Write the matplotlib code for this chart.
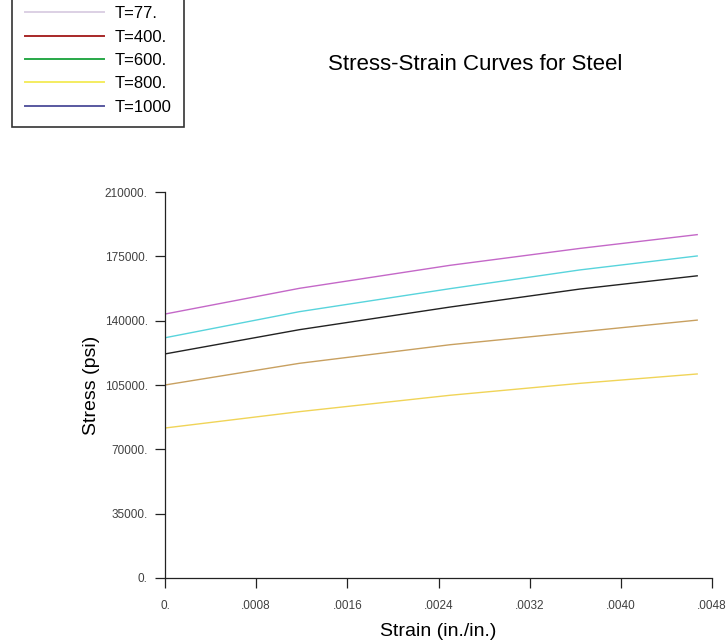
import matplotlib
matplotlib.use('Agg')
import matplotlib.pyplot as plt
from matplotlib.lines import Line2D

plt.rcParams['font.family'] = ['Liberation Sans', 'DejaVu Sans']

# strain sample points (in./in.)
strain = [0.0, 0.00118, 0.0025, 0.00364, 0.00467]

# stress (psi) at each strain, one curve per temperature
stress_77 = [143600, 157600, 170100, 179300, 186800]
stress_400 = [130700, 144900, 157400, 167600, 175200]
stress_600 = [121900, 135100, 147400, 157200, 164400]
stress_800 = [105000, 116800, 126900, 133900, 140300]
stress_1000 = [81600, 90500, 99400, 105900, 111000]

temps = ['T=77.', 'T=400.', 'T=600.', 'T=800.', 'T=1000']
line_colors = ['#c468c8', '#58d4dc', '#222222', '#c8a060', '#f0d458']
legend_colors = ['#dcd0e4', '#a82828', '#28a848', '#f4ec60', '#5858a0']

x_ticks = [0, 0.0008, 0.0016, 0.0024, 0.0032, 0.0040, 0.0048]
x_tick_labels = ['0.', '.0008', '.0016', '.0024', '.0032', '.0040', '.0048']
y_ticks = [0, 35000, 70000, 105000, 140000, 175000, 210000]
y_tick_labels = ['0.', '35000.', '70000.', '105000.', '140000.', '175000.', '210000.']

fig = plt.figure(figsize=(7.27, 6.43), dpi=100)
ax = fig.add_axes([165 / 727, 65 / 643, 547 / 727, 386 / 643])

curves = [stress_77, stress_400, stress_600, stress_800, stress_1000]
for vals, c in zip(curves, line_colors):
    ax.plot(strain, vals, color=c, linewidth=1.0)

ax.set_xlim(0, 0.0048)
ax.set_ylim(0, 210000)
ax.set_xticks(x_ticks)
ax.set_xticklabels(x_tick_labels)
ax.set_yticks(y_ticks)
ax.set_yticklabels(y_tick_labels)
ax.tick_params(axis='both', direction='out', length=7.5, width=0.9,
               labelsize=8.5, labelcolor='#404040', color='#222222')
ax.tick_params(axis='x', pad=8)
ax.tick_params(axis='y', pad=5)
for side in ['top', 'right']:
    ax.spines[side].set_visible(False)
for side in ['left', 'bottom']:
    ax.spines[side].set_linewidth(0.9)
    ax.spines[side].set_color('#222222')

ax.set_xlabel('Strain (in./in.)', fontsize=14, labelpad=8)
ax.set_ylabel('Stress (psi)', fontsize=14, labelpad=3)

fig.text(475 / 727, 1 - 64 / 643, 'Stress-Strain Curves for Steel',
         fontsize=16, ha='center', va='center')

handles = [Line2D([], [], color=c, linewidth=1.4) for c in legend_colors]
leg = fig.legend(handles, temps, loc='lower left',
                 bbox_to_anchor=(12 / 727, 1 - 127 / 643), borderaxespad=0,
                 fontsize=12, handlelength=4.8, handletextpad=0.6,
                 labelspacing=0.5, fancybox=False, frameon=True,
                 borderpad=0.75)
leg.get_frame().set_edgecolor('black')
leg.get_frame().set_linewidth(1.2)

fig.savefig('out.png', dpi=100)
